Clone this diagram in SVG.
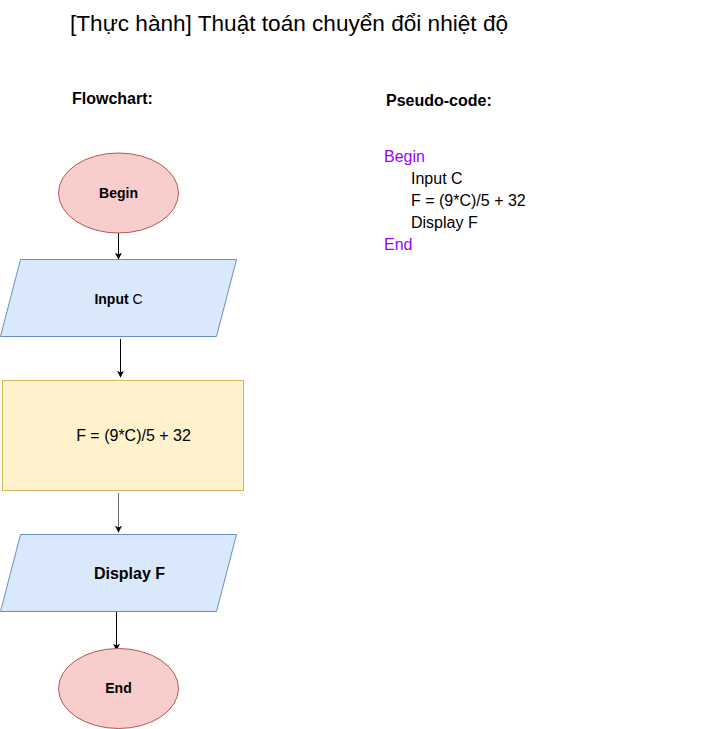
<svg xmlns="http://www.w3.org/2000/svg" width="713" height="729" viewBox="0 0 713 729">
<defs>
<marker id="arr" viewBox="0 0 10 10" refX="9" refY="5" markerWidth="7" markerHeight="7" markerUnits="userSpaceOnUse" orient="auto">
<path d="M0,0 L10,5 L0,10 L2.5,5 Z" fill="#000"/>
</marker>
<style>
text{font-family:"Liberation Sans",Arial,sans-serif;fill:#000}
.term{fill:#f8cecc;stroke:#b85450;stroke-width:1}
.io{fill:#dae8fc;stroke:#6c8ebf;stroke-width:1}
.proc{fill:#fff2cc;stroke:#d6b656;stroke-width:1}
.b{font-weight:bold}
.kw{fill:#9900ff}
.conn{stroke:#000;stroke-width:1;fill:none;marker-end:url(#arr)}
</style>
</defs>
<rect width="713" height="729" fill="#fff"/>
<text x="70" y="31" font-size="22.6">[Thực hành] Thuật toán chuyển đổi nhiệt độ</text>
<text x="72" y="104" font-size="16" class="b">Flowchart:</text>
<text x="386" y="106" font-size="16" class="b">Pseudo-code:</text>
<g id="pseudo" font-size="16">
<text x="384" y="162" class="kw">Begin</text>
<text x="411" y="184">Input C</text>
<text x="411" y="206">F = (9*C)/5 + 32</text>
<text x="411" y="228">Display F</text>
<text x="384" y="250" class="kw">End</text>
</g>
<g id="connectors">
<line x1="118.5" y1="233" x2="118.5" y2="259" class="conn"/>
<line x1="120.5" y1="339" x2="120.5" y2="377" class="conn"/>
<line x1="118.5" y1="493" x2="118.5" y2="532" class="conn" style="stroke:#666"/>
<line x1="116.5" y1="612" x2="116.5" y2="650" class="conn"/>
</g>
<g id="begin">
<ellipse cx="118.5" cy="193" rx="60" ry="40" class="term"/>
<text x="118.5" y="197.5" font-size="14" class="b" text-anchor="middle">Begin</text>
</g>
<g id="input">
<polygon points="20.5,259.5 236.5,259.5 216.5,336.5 0.5,336.5" class="io"/>
<text x="118.5" y="304" font-size="14" text-anchor="middle"><tspan class="b">Input</tspan> C</text>
</g>
<g id="process">
<rect x="2.5" y="380.5" width="241" height="110" class="proc"/>
<text x="133.5" y="441" font-size="16" text-anchor="middle">F = (9*C)/5 + 32</text>
</g>
<g id="display">
<polygon points="20.5,534.5 236.5,534.5 216.5,611.5 0.5,611.5" class="io"/>
<text x="129.5" y="579" font-size="16" class="b" text-anchor="middle">Display F</text>
</g>
<g id="end">
<ellipse cx="118.5" cy="688.5" rx="60" ry="40" class="term"/>
<text x="118.5" y="693" font-size="14" class="b" text-anchor="middle">End</text>
</g>
</svg>
